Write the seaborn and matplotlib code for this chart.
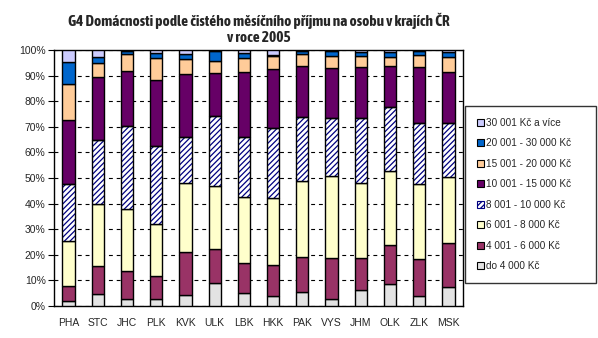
import matplotlib
matplotlib.use("Agg")
import matplotlib.pyplot as plt
from matplotlib.patches import Patch
from matplotlib import font_manager
import seaborn as sns
import numpy as np

regions = ["PHA", "STC", "JHC", "PLK", "KVK", "ULK", "LBK", "HKK",
           "PAK", "VYS", "JHM", "OLK", "ZLK", "MSK"]

series_labels = ["do 4 000 Kč", "4 001 - 6 000 Kč", "6 001 - 8 000 Kč",
                 "8 001 - 10 000 Kč", "10 001 - 15 000 Kč", "15 001 - 20 000 Kč",
                 "20 001 - 30 000 Kč", "30 001 Kč a více"]

do_4000 = [1.8, 4.7, 2.7, 2.6, 4.4, 9.0, 5.1, 4.1, 5.4, 2.7, 6.1, 8.5, 3.9, 7.5]
p4_6 = [6.2, 11.0, 11.0, 9.3, 16.8, 13.1, 11.8, 12.0, 13.9, 16.1, 12.7, 15.4, 14.5, 17.2]
p6_8 = [17.5, 24.2, 24.3, 20.1, 27.0, 24.8, 25.7, 26.1, 29.7, 32.0, 29.3, 28.9, 29.1, 25.8]
p8_10 = [22.3, 25.1, 32.2, 30.5, 17.7, 27.2, 23.3, 27.2, 25.0, 22.5, 25.2, 24.8, 24.1, 20.9]
p10_15 = [24.7, 24.4, 21.6, 25.7, 24.7, 17.1, 25.5, 23.1, 19.7, 19.6, 20.0, 16.0, 21.6, 20.0]
p15_20 = [14.2, 5.4, 6.8, 8.7, 6.0, 4.6, 5.5, 5.0, 4.7, 4.6, 4.2, 3.5, 4.8, 5.9]
p20_30 = [8.5, 2.5, 1.0, 1.9, 1.8, 3.7, 1.8, 0.7, 1.2, 2.1, 1.8, 2.1, 1.7, 1.9]
nad_30 = [4.8, 2.7, 0.5, 1.2, 1.6, 0.5, 1.3, 1.8, 0.4, 0.4, 0.7, 0.8, 0.3, 0.8]

series = [do_4000, p4_6, p6_8, p8_10, p10_15, p15_20, p20_30, nad_30]
colors = ["#E3E3E3", "#993366", "#FFFFCC", "#FFFFFF", "#660066", "#FFCC99", "#0066CC", "#CCCCFF"]
hatched = 3

sns.set_theme(style="white")
plt.rcParams["font.family"] = ["Liberation Sans", "DejaVu Sans"]
plt.rcParams["hatch.linewidth"] = 0.9

# pick a narrow bold face for the title if one is installed
title_font = None
for f in font_manager.fontManager.ttflist:
    n = f.name.lower()
    if ("narrow" in n or "condensed" in n) and f.weight in ("bold", 700):
        title_font = f.fname
        break
if title_font is None:
    for f in font_manager.fontManager.ttflist:
        if f.name == "DejaVu Sans" and f.stretch == "condensed" and f.weight in ("bold", 700):
            title_font = f.fname
            break

fig = plt.figure(figsize=(5.98, 3.38), dpi=100)
ax = fig.add_axes([54 / 598, 32 / 338, 409 / 598, 256 / 338])

bottom = np.zeros(len(regions))
for i, (vals, col) in enumerate(zip(series, colors)):
    vals = np.array(vals)
    if i == hatched:
        sns.barplot(x=regions, y=vals, bottom=bottom, color=col, saturation=1,
                    width=0.42, edgecolor="#000080", linewidth=0, hatch="//////",
                    ax=ax, zorder=3)
        sns.barplot(x=regions, y=vals, bottom=bottom, color="black", fill=False,
                    width=0.42, edgecolor="black", linewidth=1.0,
                    ax=ax, zorder=4)
    else:
        sns.barplot(x=regions, y=vals, bottom=bottom, color=col, saturation=1,
                    width=0.42, edgecolor="black", linewidth=1.0, ax=ax, zorder=3)
    bottom = bottom + vals

ax.set_xlim(-0.5, len(regions) - 0.5)
ax.set_ylim(0, 100)
yt = np.arange(0, 101, 10)
ax.set_yticks(yt)
ax.set_yticklabels([f"{v}%" for v in yt], fontsize=7.5)
ax.set_xticks(range(len(regions)))
ax.set_xticklabels(regions, fontsize=7.5)
ax.set_xticks(np.arange(-0.5, len(regions), 1), minor=True)
ax.tick_params(axis="x", which="major", length=0, pad=9)
ax.tick_params(axis="x", which="minor", length=4, width=0.8, direction="out", color="black")
ax.tick_params(axis="y", which="major", length=4, width=0.8, direction="out", color="black", pad=2, left=True)
ax.set_xlabel("")
ax.set_ylabel("")
ax.yaxis.grid(True, linestyle=(0, (3.5, 3.5)), color="black", linewidth=0.8, zorder=0)
ax.set_axisbelow(True)
for s in ax.spines.values():
    s.set_visible(True)
    s.set_color("black")
    s.set_linewidth(1.0)

title = "G4 Domácnosti podle čistého měsíčního příjmu na osobu v krajích ČR\nv roce 2005"
if title_font is not None:
    fp = font_manager.FontProperties(fname=title_font, size=11, weight="bold")
    ax.set_title(title, fontproperties=fp, pad=6, linespacing=1.15)
else:
    ax.set_title(title, fontsize=8.5, fontweight="bold", pad=7, linespacing=1.35)

handles = []
for i in range(len(series) - 1, -1, -1):
    if i == hatched:
        handles.append(Patch(facecolor="white", edgecolor="#000080", hatch="//////",
                             linewidth=0.8, label=series_labels[i]))
    else:
        handles.append(Patch(facecolor=colors[i], edgecolor="black", linewidth=0.8,
                             label=series_labels[i]))
leg = fig.legend(handles=handles, loc="center left",
                 bbox_to_anchor=(465 / 598, (338 - 282) / 338, 131 / 598, 175 / 338),
                 mode="expand", fontsize=7.2, frameon=True, fancybox=False,
                 edgecolor="black", handlelength=0.7, handleheight=0.7,
                 handletextpad=0.25, labelspacing=1.05, borderpad=1.2, borderaxespad=0)
leg.get_frame().set_linewidth(1.0)

fig.savefig("out.png", dpi=100, facecolor="white")
